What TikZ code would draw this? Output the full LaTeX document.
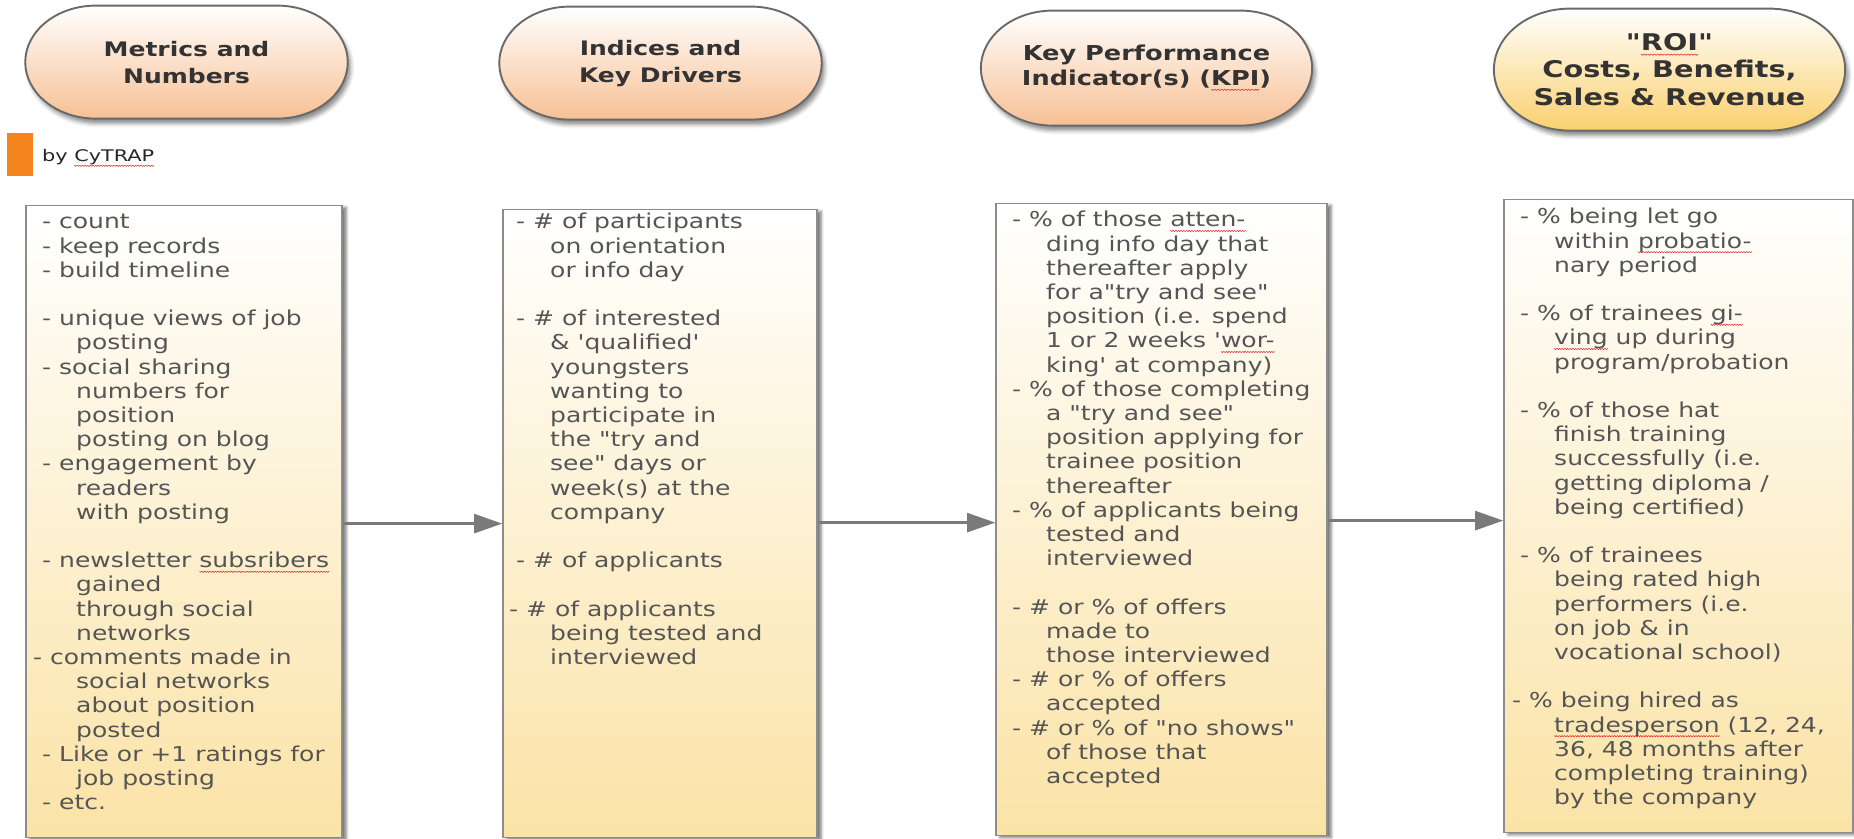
\documentclass[tikz,border=0pt]{standalone}
\usepackage{fontspec}
\setmainfont{DejaVu Sans}
\newfontfamily\bxf[FakeStretch=1.22]{DejaVu Sans}
\newfontfamily\byf[FakeStretch=1.3]{DejaVu Sans}
\newfontfamily\hdf{DejaVu Sans}
\usetikzlibrary{shapes.misc, shadows.blur, arrows.meta}
\definecolor{peach}{RGB}{247,192,148}
\definecolor{gold}{RGB}{250,208,110}
\definecolor{boxbot}{RGB}{251,227,166}
\definecolor{edge}{RGB}{105,105,105}
\definecolor{boxedge}{RGB}{140,140,140}
\definecolor{txt}{RGB}{85,85,85}
\definecolor{hdtxt}{RGB}{51,51,51}
\definecolor{arrowc}{RGB}{122,122,122}
\definecolor{cyorange}{RGB}{245,132,31}
\definecolor{wavered}{RGB}{228,50,50}
\newsavebox\wavepc
\newsavebox\spbox
\newcommand\spell[1]{\sbox\spbox{#1}\leavevmode\rlap{\lower3.5pt\hbox to \wd\spbox{\xleaders\copy\wavepc\hfil}}\usebox\spbox}
\newcommand\cont{\hspace*{34pt}}
\newcommand\outd[1]{\hspace*{-#1pt}}
\tikzset{
  pill/.style={rounded rectangle, draw=edge, line width=1.9pt, transform shape,
    blur shadow={shadow xshift=3pt, shadow yshift=-5pt, shadow blur radius=4pt, shadow opacity=45},
    text=hdtxt, align=center, inner sep=0pt},
  box/.style={draw=boxedge, line width=1.6pt, top color=white, bottom color=boxbot,
    blur shadow={shadow xshift=4pt, shadow yshift=-2pt, shadow blur radius=3pt, shadow opacity=55},
    inner sep=0pt},
  btext/.style={anchor=north west, inner sep=0pt, align=left, text=txt,
    font=\bxf\fontsize{20.5}{24.2}\selectfont},
  arr/.style={draw=arrowc, line width=2.4pt, -{Triangle[length=28pt,width=19pt]}}
}
\begin{document}
\begin{tikzpicture}[x=1pt, y=-1pt]
\global\sbox\wavepc{\begin{tikzpicture}[baseline=0pt,x=1pt,y=1pt]\path[use as bounding box] (0,0.6) rectangle (2.6,-2);\draw[wavered,line width=0.55pt] (0,0) -- (1.3,-1.3) -- (2.6,0);\end{tikzpicture}}
\useasboundingbox (0,0) rectangle (1854,838);
% pills
\begin{scope}[shift={(186.5,61.5)}, xscale=1.25]
\node[pill, minimum width=258pt, minimum height=113pt, top color=white, bottom color=peach,
  font=\hdf\bfseries\fontsize{20}{27}\selectfont] (p1) at (0,0) {Metrics and\\Numbers};
\end{scope}
\begin{scope}[shift={(660.5,62.5)}, xscale=1.25]
\node[pill, minimum width=258pt, minimum height=113pt, top color=white, bottom color=peach,
  font=\hdf\bfseries\fontsize{20}{27}\selectfont] (p2) at (0,0) {Indices and\\Key Drivers};
\end{scope}
\begin{scope}[shift={(1146.5,67.5)}, xscale=1.25]
\node[pill, minimum width=265pt, minimum height=115pt, top color=white, bottom color=peach,
  font=\hdf\bfseries\fontsize{20.5}{25}\selectfont] (p3) at (0,0) {Key Performance\\Indicator(s) (\spell{KPI})};
\end{scope}
\begin{scope}[shift={(1674.5,69)}, xscale=1.25]
\node[pill, minimum width=281pt, minimum height=122pt, top color=white, bottom color=gold,
  font=\hdf\bfseries\fontsize{23}{27.5}\selectfont] (p4) at (-4,0) {"\spell{ROI}"\\Costs, Benefits,\\Sales \& Revenue};
\end{scope}
% logo
\node[fill=cyorange, minimum width=26pt, minimum height=43pt, inner sep=0pt] (logo) at (20,153.5) {};
\node[anchor=base west, inner sep=0pt, text=black!85, font=\byf\fontsize{16}{18}\selectfont] (by) at (42,161) {by \spell{CyTRAP}};
% boxes
\node[box, minimum width=316pt, minimum height=632pt] (b1) at (184,521) {};
\node[box, minimum width=314pt, minimum height=628pt] (b2) at (660,523) {};
\node[box, minimum width=331pt, minimum height=632pt] (b3) at (1161.5,519) {};
\node[box, minimum width=349pt, minimum height=633pt] (b4) at (1678.5,515.5) {};
% texts
\node[btext] (t1) at (42,210) {\rule{0pt}{18pt}- count\\
- keep records\\
- build timeline\\[24.2pt]
- unique views of job\\
\cont posting\\
- social sharing\\
\cont numbers for\\
\cont position\\
\cont posting on blog\\
- engagement by\\
\cont readers\\
\cont with posting\\[24.2pt]
- newsletter \spell{subsribers}\\
\cont gained\\
\cont through social\\
\cont networks\\
\outd{9}- comments made in\\
\cont social networks\\
\cont about position\\
\cont posted\\
- Like or +1 ratings for\\
\cont job posting\\
- etc.};
\node[btext] (t2) at (516,210) {\rule{0pt}{18pt}- \# of participants\\
\cont on orientation\\
\cont or info day\\[24.2pt]
- \# of interested\\
\cont \& 'qualified'\\
\cont youngsters\\
\cont wanting to\\
\cont participate in\\
\cont the "try and\\
\cont see" days or\\
\cont week(s) at the\\
\cont company\\[24.2pt]
- \# of applicants\\[24.2pt]
\outd{7}- \# of applicants\\
\cont being tested and\\
\cont interviewed};
\node[btext] (t3) at (1012,208) {\rule{0pt}{18pt}- \% of those \spell{atten-}\\
\cont ding info day that\\
\cont thereafter apply\\
\cont for a"try and see"\\
\cont position (i.e. spend\\
\cont 1 or 2 weeks '\spell{wor-}\\
\cont king' at company)\\
- \% of those completing\\
\cont a "try and see"\\
\cont position applying for\\
\cont trainee position\\
\cont thereafter\\
- \% of applicants being\\
\cont tested and\\
\cont interviewed\\[24.2pt]
- \# or \% of offers\\
\cont made to\\
\cont those interviewed\\
- \# or \% of offers\\
\cont accepted\\
- \# or \% of "no shows"\\
\cont of those that\\
\cont accepted};
\node[btext] (t4) at (1520,205) {\rule{0pt}{18pt}- \% being let go\\
\cont within \spell{probatio-}\\
\cont nary period\\[24.2pt]
- \% of trainees \spell{gi-}\\
\cont \spell{ving} up during\\
\cont program/probation\\[24.2pt]
- \% of those hat\\
\cont finish training\\
\cont successfully (i.e.\\
\cont getting diploma /\\
\cont being certified)\\[24.2pt]
- \% of trainees\\
\cont being rated high\\
\cont performers (i.e.\\
\cont on job \& in\\
\cont vocational school)\\[24.2pt]
\outd{8}- \% being hired as\\
\cont \spell{tradesperson} (12, 24,\\
\cont 36, 48 months after\\
\cont completing training)\\
\cont by the company};
% arrows
\draw[arr] (b1.east |- 0,523) -- (b2.west |- 0,523);
\draw[arr] (b2.east |- 0,522) -- (b3.west |- 0,522);
\draw[arr] (b3.east |- 0,520) -- (b4.west |- 0,520);
\end{tikzpicture}
\end{document}
